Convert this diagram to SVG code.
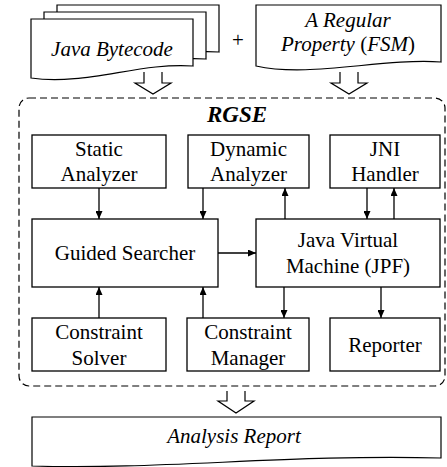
<svg xmlns="http://www.w3.org/2000/svg" width="447" height="467" viewBox="0 0 447 467" font-family="Liberation Serif, Times New Roman, serif" font-size="21">
<defs>
<style>
.box{fill:#fff;stroke:#000;stroke-width:1.3}
.doc{fill:#fff;stroke:#000;stroke-width:1.2}
.blk{fill:#fff;stroke:#000;stroke-width:1.2;stroke-linejoin:miter}
.t{font-family:"Liberation Serif",serif;font-size:21px;fill:#000;text-anchor:middle}
.i{font-style:italic}
.con{stroke:#000;stroke-width:1.3;fill:none;marker-end:url(#ah)}
</style>
<marker id="ah" markerUnits="userSpaceOnUse" markerWidth="8" markerHeight="7" refX="8" refY="3.5" orient="auto">
<path d="M0,0 L8,3.5 L0,7 z" fill="#000"/>
</marker>
<path id="jdoc" d="M31,19 H193 V66 C140,62 85,86 31,78 Z"/>
</defs>
<rect width="447" height="467" fill="#fff"/>

<g id="java-bytecode">
<use href="#jdoc" class="doc" transform="translate(26,-14)"/>
<use href="#jdoc" class="doc" transform="translate(13,-7)"/>
<use href="#jdoc" class="doc"/>
<text class="t i" x="112" y="56">Java Bytecode</text>
</g>

<g id="plus">
<text class="t" x="238" y="47">+</text>
</g>

<g id="regular-property">
<path class="doc" d="M256,5 H441 V62 C380,58 310,78 256,66 Z"/>
<text class="t" x="348" y="27"><tspan class="i">A Regular</tspan></text>
<text class="t" x="348" y="51"><tspan class="i">Property </tspan><tspan>(</tspan><tspan class="i">FSM</tspan><tspan>)</tspan></text>
</g>

<g id="input-arrows">
<path class="blk" d="M144,72 V83 H135 L153,94 L171,83 H162 V72"/>
<path class="blk" d="M340,72 V83 H331 L349,94 L367,83 H358 V72"/>
</g>

<g id="rgse">
<rect x="19" y="98" width="426" height="288" rx="10" ry="10" fill="none" stroke="#000" stroke-width="1.2" stroke-dasharray="7 4"/>
<text class="t i" x="237" y="122" font-weight="bold" style="font-weight:bold;font-size:23px">RGSE</text>
</g>

<g id="static-analyzer">
<rect class="box" x="32" y="135" width="134" height="53"/>
<text class="t" x="99" y="156">Static</text>
<text class="t" x="99" y="181">Analyzer</text>
</g>

<g id="dynamic-analyzer">
<rect class="box" x="188" y="135" width="121" height="53"/>
<text class="t" x="248.5" y="156">Dynamic</text>
<text class="t" x="248.5" y="181">Analyzer</text>
</g>

<g id="jni-handler">
<rect class="box" x="330" y="135" width="110" height="53"/>
<text class="t" x="385" y="156">JNI</text>
<text class="t" x="385" y="181">Handler</text>
</g>

<g id="guided-searcher">
<rect class="box" x="32" y="219" width="186" height="68"/>
<text class="t" x="125" y="260">Guided Searcher</text>
</g>

<g id="jvm">
<rect class="box" x="256" y="219" width="184" height="68"/>
<text class="t" x="348" y="247">Java Virtual</text>
<text class="t" x="348" y="273">Machine (JPF)</text>
</g>

<g id="constraint-solver">
<rect class="box" x="32" y="318" width="134" height="53"/>
<text class="t" x="99" y="339">Constraint</text>
<text class="t" x="99" y="365">Solver</text>
</g>

<g id="constraint-manager">
<rect class="box" x="187" y="318" width="122" height="53"/>
<text class="t" x="248" y="339">Constraint</text>
<text class="t" x="248" y="365">Manager</text>
</g>

<g id="reporter">
<rect class="box" x="330" y="318" width="110" height="53"/>
<text class="t" x="385" y="352">Reporter</text>
</g>

<g id="connectors">
<line class="con" x1="99" y1="188" x2="99" y2="219"/>
<line class="con" x1="203" y1="188" x2="203" y2="219"/>
<line class="con" x1="285" y1="219" x2="285" y2="188"/>
<line class="con" x1="367" y1="188" x2="367" y2="219"/>
<line class="con" x1="394" y1="219" x2="394" y2="188"/>
<line class="con" x1="218" y1="253" x2="256" y2="253"/>
<line class="con" x1="99" y1="318" x2="99" y2="287"/>
<line class="con" x1="203" y1="318" x2="203" y2="287"/>
<line class="con" x1="284" y1="287" x2="284" y2="318"/>
<line class="con" x1="381" y1="287" x2="381" y2="318"/>
</g>

<g id="output-arrow">
<path class="blk" d="M227,391 V401 H218 L236,413 L254,401 H245 V391"/>
</g>

<g id="analysis-report">
<path class="doc" d="M32,417 H441 V458 C290,454 160,470 32,466 Z"/>
<text class="t i" x="234" y="443">Analysis Report</text>
</g>
</svg>
